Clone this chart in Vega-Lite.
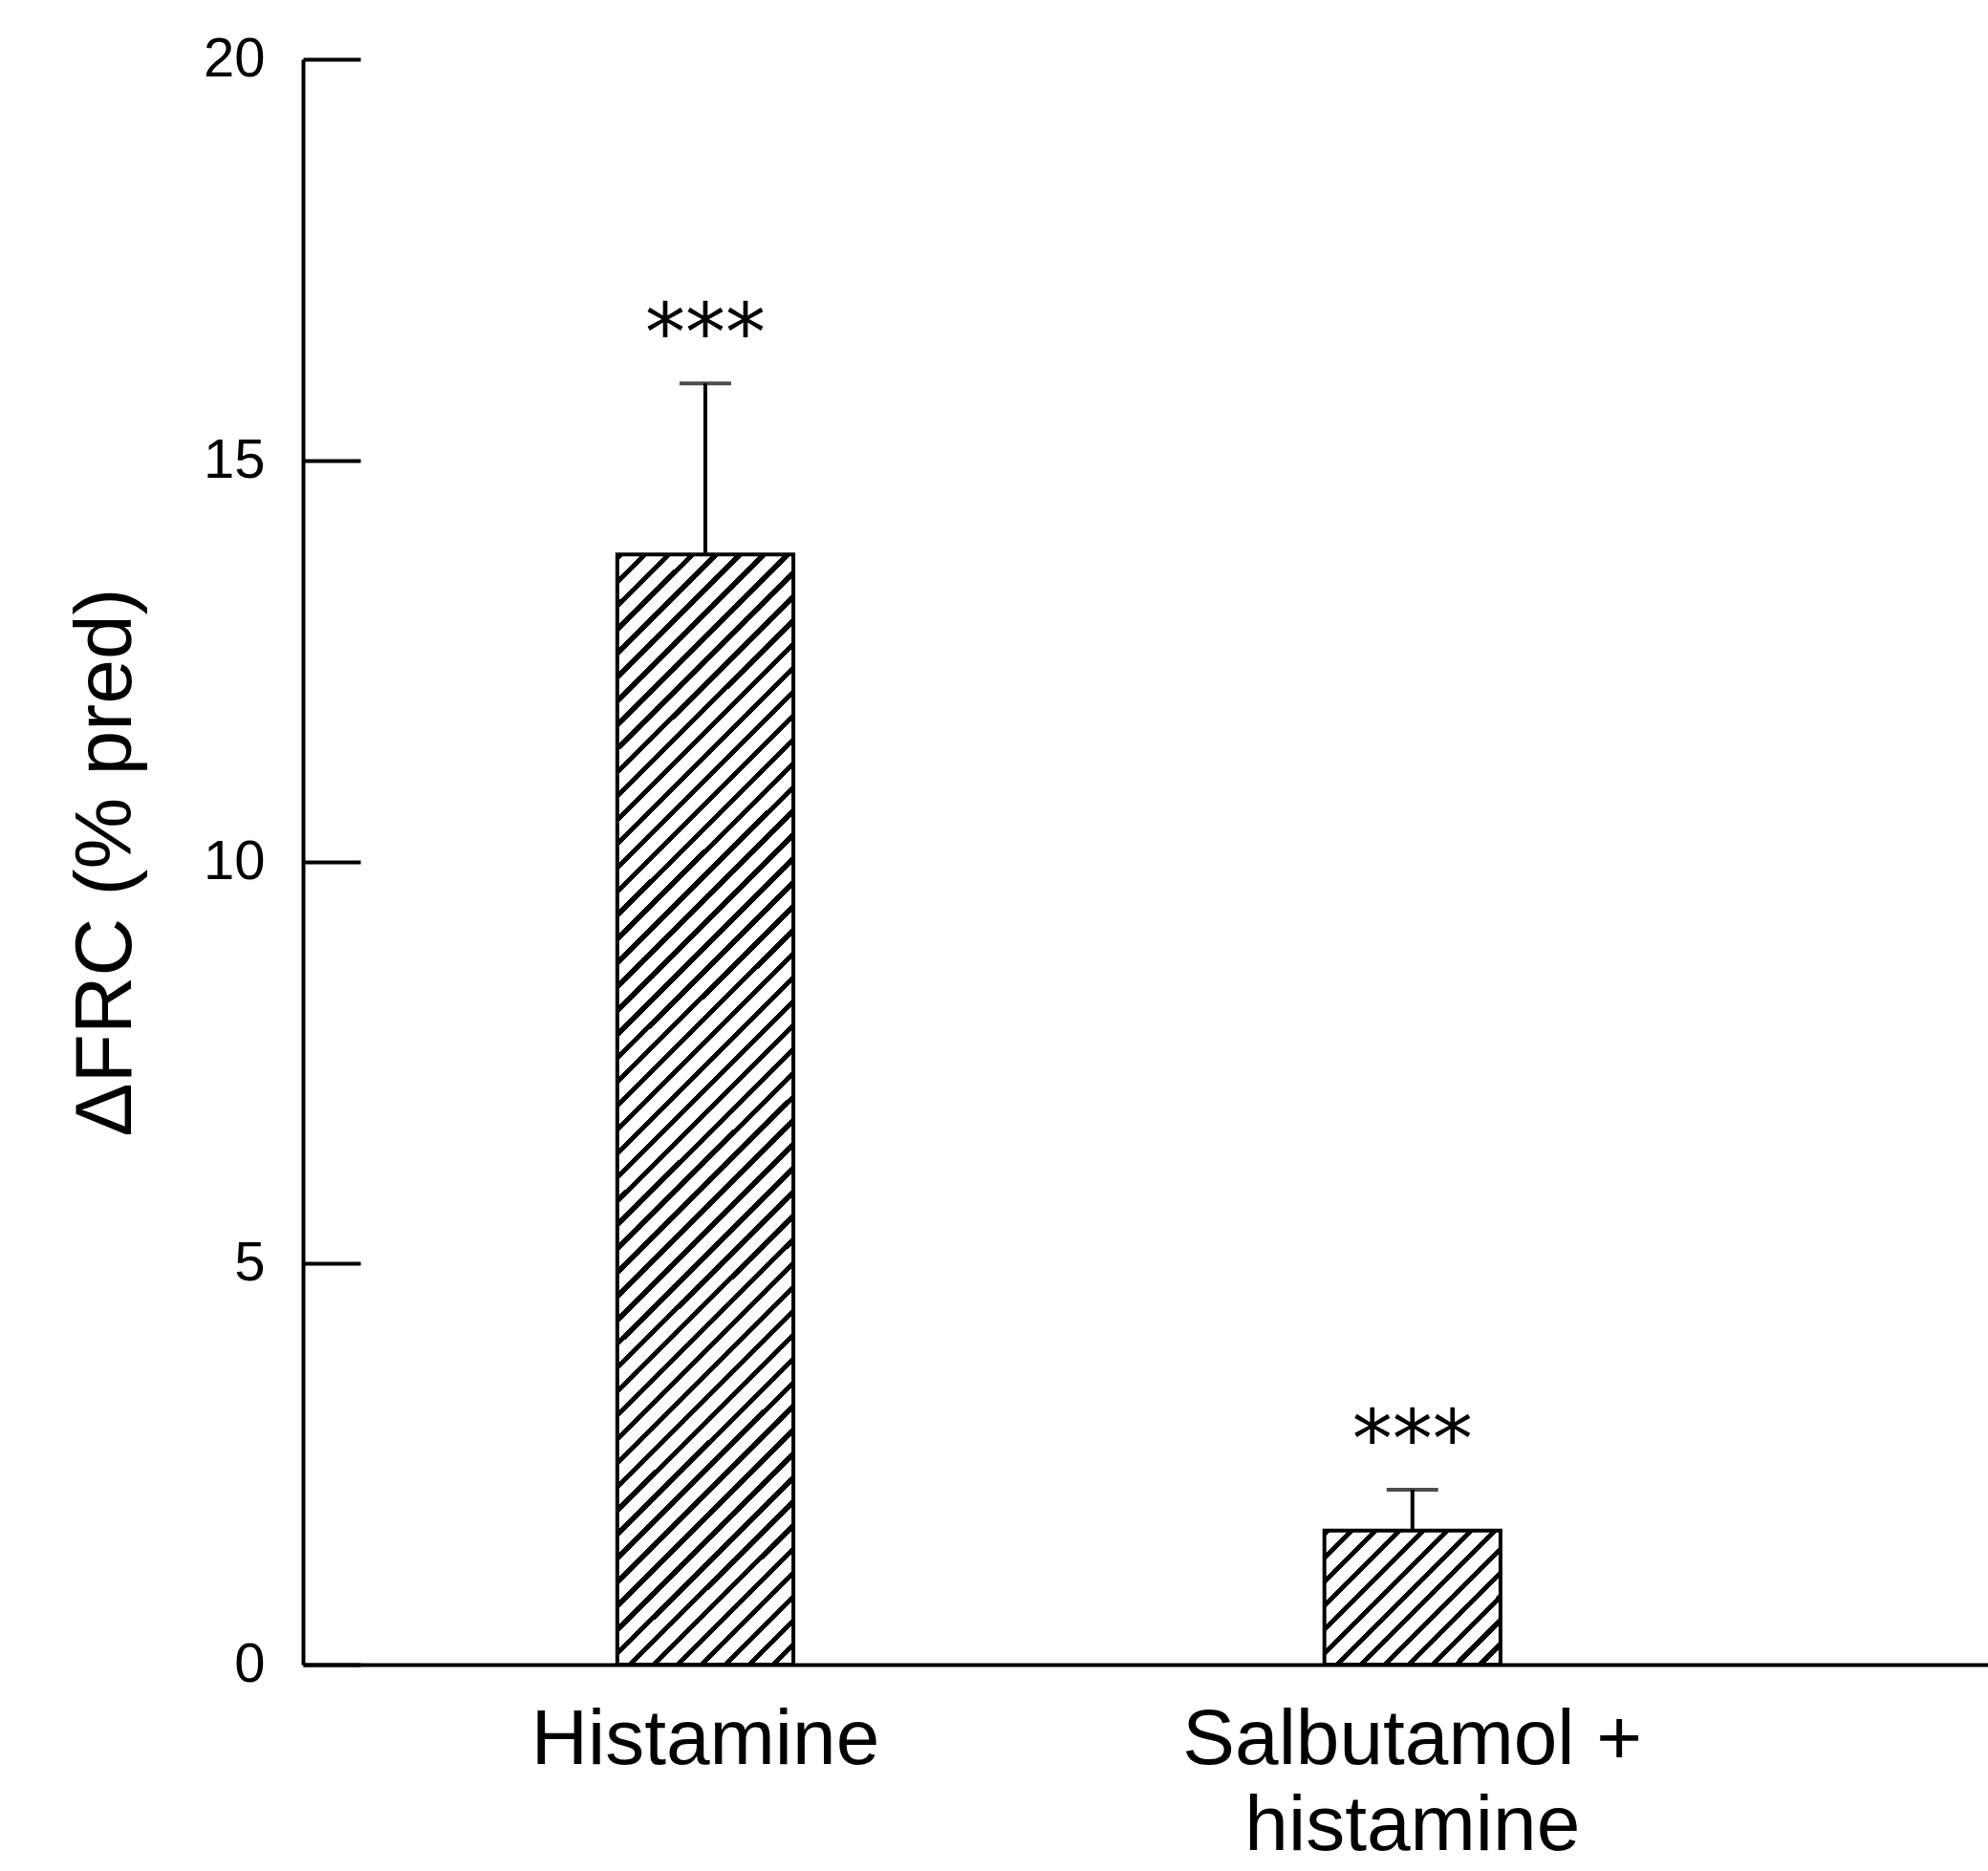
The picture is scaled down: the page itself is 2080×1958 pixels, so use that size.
{
  "$schema": "https://vega.github.io/schema/vega-lite/v6.json",
  "width": 1763,
  "height": 1680,
  "autosize": "none",
  "padding": {"left": 317, "right": 0, "top": 62, "bottom": 216},
  "background": "white",
  "config": {"view": {"stroke": null}},
  "data": {"values": [
    {"group": "Histamine", "mean": 13.83, "upper": 15.96, "sig": "***"},
    {"group": "Salbutamol + histamine", "mean": 1.67, "upper": 2.18, "sig": "***"}
  ]},
  "encoding": {
    "x": {
      "field": "group", "type": "nominal",
      "scale": {"domain": ["Histamine", "Salbutamol + histamine"], "paddingInner": 0.751, "paddingOuter": 0.567, "align": 0.392},
      "axis": {
        "title": null, "ticks": false, "domainWidth": 4, "domainColor": "black",
        "labelAngle": 0, "labelFont": "Liberation Sans", "labelFontSize": 82, "labelColor": "black",
        "labelPadding": 38, "labelLineHeight": 90, "labelLimit": 0,
        "labelExpr": "datum.value == 'Salbutamol + histamine' ? ['Salbutamol +', 'histamine'] : datum.value"
      }
    }
  },
  "layer": [
    {
      "transform": [{"filter": "datum.group == 'Histamine'"}],
      "mark": {"type": "bar", "stroke": "black", "strokeWidth": 4, "fill": {
        "gradient": "linear", "x1": 0, "y1": 0, "x2": 0.17894, "y2": 1.13001,
        "stops": [
{"offset":0,"color":"#000"},{"offset":0.00556,"color":"#000"},{"offset":0.00556,"color":"#fff"},{"offset":0.01852,"color":"#fff"},
{"offset":0.01852,"color":"#000"},{"offset":0.02408,"color":"#000"},{"offset":0.02408,"color":"#fff"},{"offset":0.03704,"color":"#fff"},
{"offset":0.03704,"color":"#000"},{"offset":0.0426,"color":"#000"},{"offset":0.0426,"color":"#fff"},{"offset":0.05556,"color":"#fff"},
{"offset":0.05556,"color":"#000"},{"offset":0.06112,"color":"#000"},{"offset":0.06112,"color":"#fff"},{"offset":0.07407,"color":"#fff"},
{"offset":0.07407,"color":"#000"},{"offset":0.07963,"color":"#000"},{"offset":0.07963,"color":"#fff"},{"offset":0.09259,"color":"#fff"},
{"offset":0.09259,"color":"#000"},{"offset":0.09815,"color":"#000"},{"offset":0.09815,"color":"#fff"},{"offset":0.11111,"color":"#fff"},
{"offset":0.11111,"color":"#000"},{"offset":0.11667,"color":"#000"},{"offset":0.11667,"color":"#fff"},{"offset":0.12963,"color":"#fff"},
{"offset":0.12963,"color":"#000"},{"offset":0.13519,"color":"#000"},{"offset":0.13519,"color":"#fff"},{"offset":0.14815,"color":"#fff"},
{"offset":0.14815,"color":"#000"},{"offset":0.15371,"color":"#000"},{"offset":0.15371,"color":"#fff"},{"offset":0.16667,"color":"#fff"},
{"offset":0.16667,"color":"#000"},{"offset":0.17223,"color":"#000"},{"offset":0.17223,"color":"#fff"},{"offset":0.18519,"color":"#fff"},
{"offset":0.18519,"color":"#000"},{"offset":0.19075,"color":"#000"},{"offset":0.19075,"color":"#fff"},{"offset":0.2037,"color":"#fff"},
{"offset":0.2037,"color":"#000"},{"offset":0.20926,"color":"#000"},{"offset":0.20926,"color":"#fff"},{"offset":0.22222,"color":"#fff"},
{"offset":0.22222,"color":"#000"},{"offset":0.22778,"color":"#000"},{"offset":0.22778,"color":"#fff"},{"offset":0.24074,"color":"#fff"},
{"offset":0.24074,"color":"#000"},{"offset":0.2463,"color":"#000"},{"offset":0.2463,"color":"#fff"},{"offset":0.25926,"color":"#fff"},
{"offset":0.25926,"color":"#000"},{"offset":0.26482,"color":"#000"},{"offset":0.26482,"color":"#fff"},{"offset":0.27778,"color":"#fff"},
{"offset":0.27778,"color":"#000"},{"offset":0.28334,"color":"#000"},{"offset":0.28334,"color":"#fff"},{"offset":0.2963,"color":"#fff"},
{"offset":0.2963,"color":"#000"},{"offset":0.30186,"color":"#000"},{"offset":0.30186,"color":"#fff"},{"offset":0.31481,"color":"#fff"},
{"offset":0.31481,"color":"#000"},{"offset":0.32037,"color":"#000"},{"offset":0.32037,"color":"#fff"},{"offset":0.33333,"color":"#fff"},
{"offset":0.33333,"color":"#000"},{"offset":0.33889,"color":"#000"},{"offset":0.33889,"color":"#fff"},{"offset":0.35185,"color":"#fff"},
{"offset":0.35185,"color":"#000"},{"offset":0.35741,"color":"#000"},{"offset":0.35741,"color":"#fff"},{"offset":0.37037,"color":"#fff"},
{"offset":0.37037,"color":"#000"},{"offset":0.37593,"color":"#000"},{"offset":0.37593,"color":"#fff"},{"offset":0.38889,"color":"#fff"},
{"offset":0.38889,"color":"#000"},{"offset":0.39445,"color":"#000"},{"offset":0.39445,"color":"#fff"},{"offset":0.40741,"color":"#fff"},
{"offset":0.40741,"color":"#000"},{"offset":0.41297,"color":"#000"},{"offset":0.41297,"color":"#fff"},{"offset":0.42593,"color":"#fff"},
{"offset":0.42593,"color":"#000"},{"offset":0.43149,"color":"#000"},{"offset":0.43149,"color":"#fff"},{"offset":0.44444,"color":"#fff"},
{"offset":0.44444,"color":"#000"},{"offset":0.45,"color":"#000"},{"offset":0.45,"color":"#fff"},{"offset":0.46296,"color":"#fff"},
{"offset":0.46296,"color":"#000"},{"offset":0.46852,"color":"#000"},{"offset":0.46852,"color":"#fff"},{"offset":0.48148,"color":"#fff"},
{"offset":0.48148,"color":"#000"},{"offset":0.48704,"color":"#000"},{"offset":0.48704,"color":"#fff"},{"offset":0.5,"color":"#fff"},
{"offset":0.5,"color":"#000"},{"offset":0.50556,"color":"#000"},{"offset":0.50556,"color":"#fff"},{"offset":0.51852,"color":"#fff"},
{"offset":0.51852,"color":"#000"},{"offset":0.52408,"color":"#000"},{"offset":0.52408,"color":"#fff"},{"offset":0.53704,"color":"#fff"},
{"offset":0.53704,"color":"#000"},{"offset":0.5426,"color":"#000"},{"offset":0.5426,"color":"#fff"},{"offset":0.55556,"color":"#fff"},
{"offset":0.55556,"color":"#000"},{"offset":0.56112,"color":"#000"},{"offset":0.56112,"color":"#fff"},{"offset":0.57407,"color":"#fff"},
{"offset":0.57407,"color":"#000"},{"offset":0.57963,"color":"#000"},{"offset":0.57963,"color":"#fff"},{"offset":0.59259,"color":"#fff"},
{"offset":0.59259,"color":"#000"},{"offset":0.59815,"color":"#000"},{"offset":0.59815,"color":"#fff"},{"offset":0.61111,"color":"#fff"},
{"offset":0.61111,"color":"#000"},{"offset":0.61667,"color":"#000"},{"offset":0.61667,"color":"#fff"},{"offset":0.62963,"color":"#fff"},
{"offset":0.62963,"color":"#000"},{"offset":0.63519,"color":"#000"},{"offset":0.63519,"color":"#fff"},{"offset":0.64815,"color":"#fff"},
{"offset":0.64815,"color":"#000"},{"offset":0.65371,"color":"#000"},{"offset":0.65371,"color":"#fff"},{"offset":0.66667,"color":"#fff"},
{"offset":0.66667,"color":"#000"},{"offset":0.67223,"color":"#000"},{"offset":0.67223,"color":"#fff"},{"offset":0.68519,"color":"#fff"},
{"offset":0.68519,"color":"#000"},{"offset":0.69075,"color":"#000"},{"offset":0.69075,"color":"#fff"},{"offset":0.7037,"color":"#fff"},
{"offset":0.7037,"color":"#000"},{"offset":0.70926,"color":"#000"},{"offset":0.70926,"color":"#fff"},{"offset":0.72222,"color":"#fff"},
{"offset":0.72222,"color":"#000"},{"offset":0.72778,"color":"#000"},{"offset":0.72778,"color":"#fff"},{"offset":0.74074,"color":"#fff"},
{"offset":0.74074,"color":"#000"},{"offset":0.7463,"color":"#000"},{"offset":0.7463,"color":"#fff"},{"offset":0.75926,"color":"#fff"},
{"offset":0.75926,"color":"#000"},{"offset":0.76482,"color":"#000"},{"offset":0.76482,"color":"#fff"},{"offset":0.77778,"color":"#fff"},
{"offset":0.77778,"color":"#000"},{"offset":0.78334,"color":"#000"},{"offset":0.78334,"color":"#fff"},{"offset":0.7963,"color":"#fff"},
{"offset":0.7963,"color":"#000"},{"offset":0.80186,"color":"#000"},{"offset":0.80186,"color":"#fff"},{"offset":0.81481,"color":"#fff"},
{"offset":0.81481,"color":"#000"},{"offset":0.82037,"color":"#000"},{"offset":0.82037,"color":"#fff"},{"offset":0.83333,"color":"#fff"},
{"offset":0.83333,"color":"#000"},{"offset":0.83889,"color":"#000"},{"offset":0.83889,"color":"#fff"},{"offset":0.85185,"color":"#fff"},
{"offset":0.85185,"color":"#000"},{"offset":0.85741,"color":"#000"},{"offset":0.85741,"color":"#fff"},{"offset":0.87037,"color":"#fff"},
{"offset":0.87037,"color":"#000"},{"offset":0.87593,"color":"#000"},{"offset":0.87593,"color":"#fff"},{"offset":0.88889,"color":"#fff"},
{"offset":0.88889,"color":"#000"},{"offset":0.89445,"color":"#000"},{"offset":0.89445,"color":"#fff"},{"offset":0.90741,"color":"#fff"},
{"offset":0.90741,"color":"#000"},{"offset":0.91297,"color":"#000"},{"offset":0.91297,"color":"#fff"},{"offset":0.92593,"color":"#fff"},
{"offset":0.92593,"color":"#000"},{"offset":0.93149,"color":"#000"},{"offset":0.93149,"color":"#fff"},{"offset":0.94444,"color":"#fff"},
{"offset":0.94444,"color":"#000"},{"offset":0.95,"color":"#000"},{"offset":0.95,"color":"#fff"},{"offset":0.96296,"color":"#fff"},
{"offset":0.96296,"color":"#000"},{"offset":0.96852,"color":"#000"},{"offset":0.96852,"color":"#fff"},{"offset":0.98148,"color":"#fff"},
{"offset":0.98148,"color":"#000"},{"offset":0.98704,"color":"#000"},{"offset":0.98704,"color":"#fff"},{"offset":1,"color":"#fff"}
        ]
      }},
      "encoding": {
        "y": {
          "field": "mean", "type": "quantitative",
          "scale": {"domain": [0, 20], "nice": false, "zero": true},
          "axis": {
            "values": [0, 5, 10, 15, 20], "format": "d", "grid": false,
            "tickSize": -60, "tickWidth": 4, "tickColor": "black",
            "domainWidth": 4, "domainColor": "black",
            "labelFont": "Liberation Sans", "labelFontSize": 58, "labelColor": "black", "labelPadding": 100,
            "title": "ΔFRC (% pred)", "titleFont": "Liberation Sans", "titleFontSize": 84, "titleFontWeight": "normal",
            "titleColor": "black", "titlePadding": 58
          }
        }
      }
    },
    {
      "transform": [{"filter": "datum.group == 'Salbutamol + histamine'"}],
      "mark": {"type": "bar", "stroke": "black", "strokeWidth": 4, "fill": {
        "gradient": "linear", "x1": 0, "y1": 0, "x2": 1.1152, "y2": 0.8486,
        "stops": [
{"offset":0,"color":"#000"},{"offset":0.02308,"color":"#000"},{"offset":0.02308,"color":"#fff"},{"offset":0.07692,"color":"#fff"},
{"offset":0.07692,"color":"#000"},{"offset":0.1,"color":"#000"},{"offset":0.1,"color":"#fff"},{"offset":0.15385,"color":"#fff"},
{"offset":0.15385,"color":"#000"},{"offset":0.17692,"color":"#000"},{"offset":0.17692,"color":"#fff"},{"offset":0.23077,"color":"#fff"},
{"offset":0.23077,"color":"#000"},{"offset":0.25385,"color":"#000"},{"offset":0.25385,"color":"#fff"},{"offset":0.30769,"color":"#fff"},
{"offset":0.30769,"color":"#000"},{"offset":0.33077,"color":"#000"},{"offset":0.33077,"color":"#fff"},{"offset":0.38462,"color":"#fff"},
{"offset":0.38462,"color":"#000"},{"offset":0.40769,"color":"#000"},{"offset":0.40769,"color":"#fff"},{"offset":0.46154,"color":"#fff"},
{"offset":0.46154,"color":"#000"},{"offset":0.48462,"color":"#000"},{"offset":0.48462,"color":"#fff"},{"offset":0.53846,"color":"#fff"},
{"offset":0.53846,"color":"#000"},{"offset":0.56154,"color":"#000"},{"offset":0.56154,"color":"#fff"},{"offset":0.61538,"color":"#fff"},
{"offset":0.61538,"color":"#000"},{"offset":0.63846,"color":"#000"},{"offset":0.63846,"color":"#fff"},{"offset":0.69231,"color":"#fff"},
{"offset":0.69231,"color":"#000"},{"offset":0.71538,"color":"#000"},{"offset":0.71538,"color":"#fff"},{"offset":0.76923,"color":"#fff"},
{"offset":0.76923,"color":"#000"},{"offset":0.79231,"color":"#000"},{"offset":0.79231,"color":"#fff"},{"offset":0.84615,"color":"#fff"},
{"offset":0.84615,"color":"#000"},{"offset":0.86923,"color":"#000"},{"offset":0.86923,"color":"#fff"},{"offset":0.92308,"color":"#fff"},
{"offset":0.92308,"color":"#000"},{"offset":0.94615,"color":"#000"},{"offset":0.94615,"color":"#fff"},{"offset":1,"color":"#fff"}
        ]
      }},
      "encoding": {
        "y": {"field": "mean", "type": "quantitative"}
      }
    },
    {
      "mark": {"type": "rule", "color": "black", "strokeWidth": 4},
      "encoding": {
        "y": {"field": "mean", "type": "quantitative"},
        "y2": {"field": "upper"}
      }
    },
    {
      "mark": {"type": "tick", "color": "black", "size": 54, "thickness": 4},
      "encoding": {
        "y": {"field": "upper", "type": "quantitative"}
      }
    },
    {
      "mark": {"type": "text", "font": "DejaVu Sans", "fontSize": 84, "color": "black", "baseline": "alphabetic", "dy": -24},
      "encoding": {
        "y": {"field": "upper", "type": "quantitative"},
        "text": {"field": "sig"}
      }
    }
  ]
}
